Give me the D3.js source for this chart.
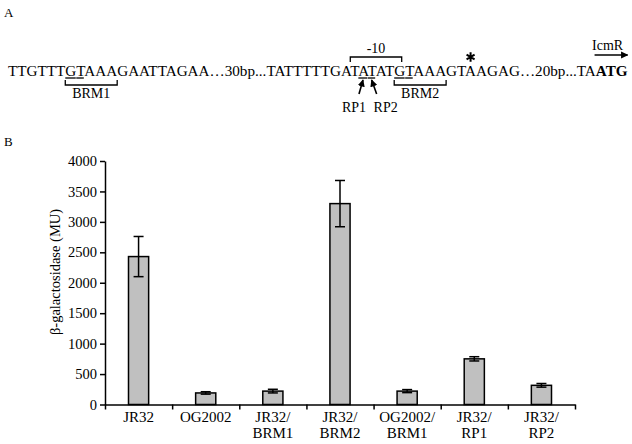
<!DOCTYPE html>
<html>
<head>
<meta charset="utf-8">
<script src="https://cdn.jsdelivr.net/npm/d3@7"></script>
<style>
  body { margin: 0; background: #fff; }
  svg { display: block; }
  svg text { font-family: "Liberation Serif", "Times New Roman", serif; fill: #000; }
</style>
</head>
<body>
<div id="viz"></div>
<script>
(function() {

// panel B data
var categories = ["JR32", "OG2002", "JR32/\nBRM1", "JR32/\nBRM2", "OG2002/\nBRM1", "JR32/\nRP1", "JR32/\nRP2"];
var values = [2430, 190, 220, 3300, 220, 750, 315];
var errors = [330, 20, 30, 380, 25, 35, 30];
var yTicks = [0, 500, 1000, 1500, 2000, 2500, 3000, 3500, 4000];

// panel A sequence
var seq = "TTGTTTGTAAAGAATTAGAA\u202630bp...TATTTTTGATATATGTAAAGTAAGAG\u202620bp...TAATG";
var boldLen = 3;
var underlined = [6, 7, 38, 39, 42, 43];

var W = 632, H = 444;
var svg = d3.select("#viz").append("svg")
    .attr("width", W)
    .attr("height", H);

svg.append("text").attr("x", 4).attr("y", 17).style("font-size", "13px").text("A");
svg.append("text").attr("x", 4).attr("y", 146).style("font-size", "13px").text("B");

// ---- panel A ----
var seqText = svg.append("text")
    .attr("x", 8)
    .attr("y", 76)
    .style("font-size", "15px");
seqText.append("tspan").text(seq.slice(0, seq.length - boldLen));
seqText.append("tspan").style("font-weight", "bold").text(seq.slice(seq.length - boldLen));

// fit the line to the width of the picture
var w0 = seqText.node().getComputedTextLength();
seqText.style("font-size", (15 * 620 / w0) + "px");

var tn = seqText.node();
function cs(i) { return tn.getStartPositionOfChar(i).x; }
function ce(i) { return tn.getEndPositionOfChar(i).x; }

var a = svg.append("g").attr("stroke", "#000").attr("fill", "none").attr("stroke-width", 1.3);

underlined.forEach(function(i) {
  a.append("line").attr("x1", cs(i)).attr("x2", ce(i) - 0.5).attr("y1", 78).attr("y2", 78);
});

function bracketDown(x1, x2, label) {
  a.append("path").attr("d", "M" + x1 + ",80V85H" + x2 + "V80");
  svg.append("text").attr("x", (x1 + x2) / 2).attr("y", 98)
      .attr("text-anchor", "middle").style("font-size", "14px").text(label);
}
bracketDown(cs(6), ce(10), "BRM1");
bracketDown(cs(42), ce(46), "BRM2");

// -10 box
var m1 = cs(37), m2 = (cs(42) + ce(42)) / 2 + 2;
a.append("path").attr("d", "M" + m1 + ",62V57H" + m2 + "V62");
svg.append("text").attr("x", (m1 + m2) / 2).attr("y", 53)
    .attr("text-anchor", "middle").style("font-size", "14px").text("-10");

// asterisk
svg.append("path")
    .attr("d", d3.symbol(d3.symbolAsterisk, 60)())
    .attr("transform", "translate(" + ((cs(49) + ce(49)) / 2) + ",57)")
    .attr("stroke", "#000").attr("stroke-width", 2).attr("fill", "none");

// RP arrows
var defs = svg.append("defs");
defs.append("marker").attr("id", "head").attr("viewBox", "0 0 10 10")
    .attr("refX", 9).attr("refY", 5).attr("markerWidth", 4.5).attr("markerHeight", 4.5)
    .attr("orient", "auto")
  .append("path").attr("d", "M0,0L10,5L0,10z").attr("fill", "#000");

var rp = [{i: 38, dx: -4, lx: -9, t: "RP1"}, {i: 39, dx: 5, lx: 14, t: "RP2"}];
rp.forEach(function(r) {
  var cx = (cs(r.i) + ce(r.i)) / 2;
  a.append("line").attr("x1", cx + r.dx).attr("y1", 94).attr("x2", cx).attr("y2", 80)
      .attr("stroke-width", 1.6).attr("marker-end", "url(#head)");
  svg.append("text").attr("x", cx + r.lx).attr("y", 112)
      .attr("text-anchor", "middle").style("font-size", "14px").text(r.t);
});

// IcmR arrow
var endX = ce(seq.length - 1);
a.append("line").attr("x1", endX - 33).attr("x2", endX).attr("y1", 55).attr("y2", 55)
    .attr("stroke-width", 1.6).attr("marker-end", "url(#head)");
svg.append("text").attr("x", endX - 20).attr("y", 50)
    .attr("text-anchor", "middle").style("font-size", "14px").text("IcmR");

// ---- panel B ----
var left = 105, right = 575, top = 161, bottom = 404.5;

var y = d3.scaleLinear().domain([0, 4000]).range([bottom, top]);
var x = d3.scaleBand().domain(categories).range([left, right])
    .paddingInner(0.7).paddingOuter(0.35);
var xb = d3.scaleLinear().domain([0, categories.length]).range([left, right]);

var yAxis = svg.append("g")
    .attr("transform", "translate(" + left + ",0)")
    .call(d3.axisLeft(y).tickValues(yTicks).tickSize(5).tickSizeOuter(0).tickPadding(3).tickFormat(d3.format("d")));
yAxis.attr("font-family", null).attr("font-size", null);
yAxis.selectAll("text").style("font-size", "14.5px").attr("fill", "#000");
yAxis.selectAll("path, line").attr("stroke", "#000").attr("stroke-width", 1.5);

var xAxis = svg.append("g")
    .attr("transform", "translate(0," + bottom + ")")
    .call(d3.axisBottom(xb).tickValues(d3.range(categories.length + 1)).tickSize(5).tickSizeOuter(0).tickFormat(""));
xAxis.selectAll("path, line").attr("stroke", "#000").attr("stroke-width", 1.5);

svg.append("g").selectAll("text")
    .data(categories)
    .enter().append("text")
    .attr("text-anchor", "middle")
    .style("font-size", "15px")
    .each(function(d) {
      var t = d3.select(this);
      d.split("\n").forEach(function(line, k) {
        t.append("tspan").attr("x", x(d) + x.bandwidth() / 2).attr("y", 422 + k * 16).text(line);
      });
    });

svg.append("text")
    .attr("transform", "translate(60,272) rotate(-90)")
    .attr("text-anchor", "middle")
    .style("font-size", "14.5px")
    .text("\u03b2-galactosidase (MU)");

svg.append("g").selectAll("rect")
    .data(values)
    .enter().append("rect")
    .attr("x", function(d, i) { return x(categories[i]); })
    .attr("y", function(d) { return y(d); })
    .attr("width", x.bandwidth())
    .attr("height", function(d) { return y(0) - y(d); })
    .attr("fill", "#c0c0c0")
    .attr("stroke", "#000")
    .attr("stroke-width", 1.5);

var eb = svg.append("g").attr("stroke", "#000").attr("stroke-width", 1.5);
values.forEach(function(v, i) {
  var cx = x(categories[i]) + x.bandwidth() / 2;
  var hi = y(v + errors[i]), lo = y(v - errors[i]);
  eb.append("line").attr("x1", cx).attr("x2", cx).attr("y1", hi).attr("y2", lo);
  eb.append("line").attr("x1", cx - 5).attr("x2", cx + 5).attr("y1", hi).attr("y2", hi);
  eb.append("line").attr("x1", cx - 5).attr("x2", cx + 5).attr("y1", lo).attr("y2", lo);
});

})();
</script>
</body>
</html>
